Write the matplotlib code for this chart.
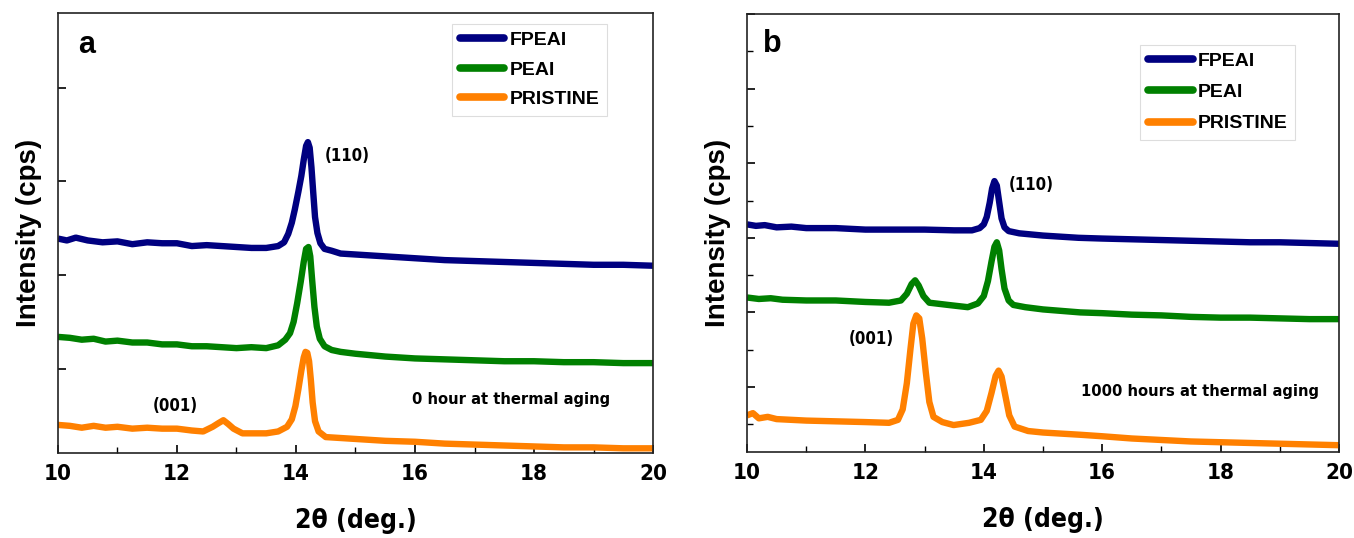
import matplotlib
matplotlib.use("Agg")
import matplotlib.pyplot as plt
from matplotlib.ticker import MultipleLocator, NullFormatter
from matplotlib import font_manager
from matplotlib.font_manager import FontProperties

# ---- data (arbitrary intensity units) ----
# panel a: 0 hour at thermal aging
a_fpeai_x = [10.0, 10.15, 10.3, 10.5, 10.75, 11.0, 11.25, 11.5, 11.75, 12.0, 12.25, 12.5, 12.75, 13.0,
             13.25, 13.5, 13.7, 13.8, 13.87, 13.93, 13.98, 14.04, 14.09, 14.13, 14.17, 14.2, 14.23,
             14.26, 14.29, 14.32, 14.36, 14.41, 14.48, 14.6, 14.75, 15.0, 15.5, 16.0, 16.5, 17.0, 17.5,
             18.0, 18.5, 19.0, 19.5, 20.0]
a_fpeai_y = [239, 237, 240, 237, 235, 236, 233, 235, 234, 234, 231, 232, 231, 230,
             229, 229, 231, 235, 244, 256, 270, 289, 306, 323, 338, 342, 336,
             315, 288, 262, 245, 234, 228, 226, 223, 222, 220, 218, 216, 215, 214,
             213, 212, 211, 211, 210]

a_peai_x = [10.0, 10.2, 10.4, 10.6, 10.8, 11.0, 11.25, 11.5, 11.75, 12.0, 12.25, 12.5, 12.75, 13.0,
            13.25, 13.5, 13.7, 13.82, 13.9, 13.96, 14.02, 14.08, 14.13, 14.17, 14.21, 14.24, 14.27,
            14.31, 14.35, 14.4, 14.48, 14.6, 14.75, 15.0, 15.5, 16.0, 16.5, 17.0, 17.5, 18.0, 18.5,
            19.0, 19.5, 20.0]
a_peai_y = [134, 133, 131, 132, 129, 130, 128, 128, 126, 126, 124, 124, 123, 122,
            123, 122, 125, 131, 138, 150, 170, 193, 214, 228, 230, 220, 196,
            166, 145, 132, 124, 120, 118, 116, 113, 111, 110, 109, 108, 108, 107,
            107, 106, 106]

a_pristine_x = [10.0, 10.2, 10.4, 10.6, 10.8, 11.0, 11.25, 11.5, 11.75, 12.0, 12.25, 12.44, 12.6, 12.7,
                12.78, 12.86, 12.95, 13.1, 13.3, 13.5, 13.7, 13.85, 13.93, 13.99, 14.04, 14.09,
                14.13, 14.16, 14.19, 14.22, 14.25, 14.28, 14.32, 14.38, 14.5, 14.75, 15.0, 15.5, 16.0,
                16.5, 17.0, 17.5, 18.0, 18.5, 19.0, 19.5, 20.0]
a_pristine_y = [40, 39, 37, 39, 37, 38, 36, 37, 36, 36, 34, 33, 38, 42,
                45, 41, 36, 31, 31, 31, 33, 38, 46, 60, 78, 98,
                112, 118, 117, 108, 88, 64, 44, 33, 27, 26, 25, 23, 22,
                20, 19, 18, 17, 16, 16, 15, 15]

# panel b: 1000 hours at thermal aging
b_fpeai_x = [10.0, 10.15, 10.3, 10.5, 10.75, 11.0, 11.5, 12.0, 12.5, 13.0, 13.5, 13.8, 13.93, 14.0,
             14.05, 14.1, 14.14, 14.18, 14.22, 14.26, 14.3, 14.35, 14.42, 14.6, 15.0, 15.6, 16.0,
             16.5, 17.0, 17.5, 18.0, 18.5, 19.0, 19.5, 20.0]
b_fpeai_y = [318, 316, 317, 314, 315, 313, 313, 311, 311, 311, 310, 310, 313, 318,
             328, 347, 366, 376, 370, 348, 326, 314, 309, 306, 303, 300, 299,
             298, 297, 296, 295, 294, 294, 293, 292]

b_peai_x = [10.0, 10.2, 10.4, 10.6, 11.0, 11.5, 12.0, 12.4, 12.6, 12.7, 12.78, 12.84, 12.9, 12.98,
            13.08, 13.4, 13.73, 13.9, 14.0, 14.07, 14.13, 14.18, 14.22, 14.26, 14.3, 14.35, 14.42,
            14.5, 14.7, 15.0, 15.63, 16.0, 16.5, 17.0, 17.5, 18.0, 18.5, 19.0, 19.5, 20.0]
b_peai_y = [220, 218, 219, 217, 216, 216, 214, 213, 216, 225, 238, 243, 236, 222,
            213, 210, 207, 212, 222, 242, 268, 288, 294, 283, 258, 232, 216,
            210, 207, 204, 200, 199, 197, 196, 194, 193, 193, 192, 191, 191]

b_pristine_x = [10.0, 10.1, 10.2, 10.35, 10.5, 11.0, 11.5, 12.0, 12.4, 12.55, 12.63, 12.7, 12.76,
                12.81, 12.86, 12.91, 12.96, 13.02, 13.08, 13.15, 13.3, 13.49, 13.75, 13.95, 14.05,
                14.13, 14.2, 14.25, 14.3, 14.36, 14.43, 14.52, 14.75, 15.0, 15.63, 16.0, 16.5,
                17.0, 17.5, 18.0, 18.5, 19.0, 19.5, 20.0]
b_pristine_y = [62, 65, 58, 60, 57, 55, 54, 53, 52, 56, 70, 105, 150,
                185, 196, 192, 165, 120, 80, 60, 53, 49, 52, 56, 68,
                92, 115, 122, 114, 90, 62, 47, 41, 39, 36, 34, 31,
                29, 27, 26, 25, 24, 23, 22]

labels = ["FPEAI", "PEAI", "PRISTINE"]
colors = ["#000080", "#008000", "#ff8000"]


def pick_narrow_bold():
    prefs = ["LiberationSansNarrow-Bold", "ArialNarrow", "NotoSans-CondensedBold",
             "NotoSans-SemiCondensedBold", "DejaVuSansCondensed-Bold", "RobotoCondensed-Bold",
             "OpenSans_Condensed-Bold", "OpenSansCondensed-Bold"]
    files = [f.fname for f in font_manager.fontManager.ttflist]
    for p in prefs:
        for fn in files:
            if p.lower() in fn.replace(" ", "").lower():
                return fn
    return None


narrow_file = pick_narrow_bold()


def narrow(size):
    if narrow_file:
        return FontProperties(fname=narrow_file, size=size)
    return FontProperties(family="Liberation Sans", weight="bold", size=size)


def wide(size):
    return FontProperties(family="Liberation Sans", weight="bold", size=size)


fig = plt.figure(figsize=(13.54, 5.38), dpi=100)
ax_a = fig.add_axes([0.0428, 0.158, 0.4395, 0.818])
ax_b = fig.add_axes([0.5517, 0.160, 0.4372, 0.814])

panels = [
    (ax_a, [(a_fpeai_x, a_fpeai_y), (a_peai_x, a_peai_y), (a_pristine_x, a_pristine_y)],
     (10, 480), 100, None, "a", (0.034, 0.927), "0 hour at thermal aging", (0.761, 0.121),
     (14.49, 327), (11.6, 60), (0.662, 0.975), 0.6),
    (ax_b, [(b_fpeai_x, b_fpeai_y), (b_peai_x, b_peai_y), (b_pristine_x, b_pristine_y)],
     (13, 600), 100, 50, "b", (0.027, 0.932), "1000 hours at thermal aging", (0.765, 0.137),
     (14.43, 371), (11.72, 164), (0.664, 0.93), 0.7),
]

for ax, series, ylim, ymaj, ymin, tag, tagpos, note, notepos, pos110, pos001, legpos, lsp in panels:
    for (x, y), lab, c in zip(series, labels, colors):
        ax.plot(x, y, color=c, lw=4.6, label=lab, solid_joinstyle="round", solid_capstyle="butt")
    ax.set_xlim(10, 20)
    ax.set_ylim(*ylim)
    ax.xaxis.set_major_locator(MultipleLocator(2))
    ax.xaxis.set_minor_locator(MultipleLocator(1))
    ax.yaxis.set_major_locator(MultipleLocator(ymaj))
    if ymin:
        ax.yaxis.set_minor_locator(MultipleLocator(ymin))
    ax.yaxis.set_major_formatter(NullFormatter())
    ax.tick_params(axis="both", which="both", direction="in", top=False, right=False)
    ax.tick_params(axis="x", which="major", length=6, width=1.2, pad=8)
    ax.tick_params(axis="x", which="minor", length=4, width=1.0)
    ax.tick_params(axis="y", which="major", length=6, width=1.2)
    ax.tick_params(axis="y", which="minor", length=4, width=1.0)
    for lbl in ax.get_xticklabels():
        lbl.set_fontproperties(narrow(16))
    for sp in ax.spines.values():
        sp.set_linewidth(1.2)
        sp.set_color("#222222")

    ax.set_xlabel("2\u03b8 (deg.)", fontproperties=narrow(19), labelpad=17)
    ax.set_ylabel("Intensity (cps)", fontproperties=wide(20), labelpad=8)

    ax.text(tagpos[0], tagpos[1], tag, transform=ax.transAxes, fontproperties=wide(22),
            va="center", ha="left")
    ax.text(notepos[0], notepos[1], note, transform=ax.transAxes, fontproperties=narrow(11.8),
            ha="center", va="center")
    ax.text(pos110[0], pos110[1], "(110)", fontproperties=narrow(12), ha="left", va="center")
    ax.text(pos001[0], pos001[1], "(001)", fontproperties=narrow(12), ha="left", va="center")

    leg = ax.legend(loc="upper left", bbox_to_anchor=legpos, frameon=True, fancybox=False,
                    edgecolor="#dddddd", framealpha=1, handlelength=2.3, handletextpad=0.25,
                    labelspacing=lsp, borderpad=0.4, borderaxespad=0, prop=wide(14))
    leg.get_frame().set_linewidth(0.8)
    for h in leg.get_lines():
        h.set_linewidth(5.5)
        h.set_solid_capstyle("round")

fig.savefig("out.png", dpi=100)
